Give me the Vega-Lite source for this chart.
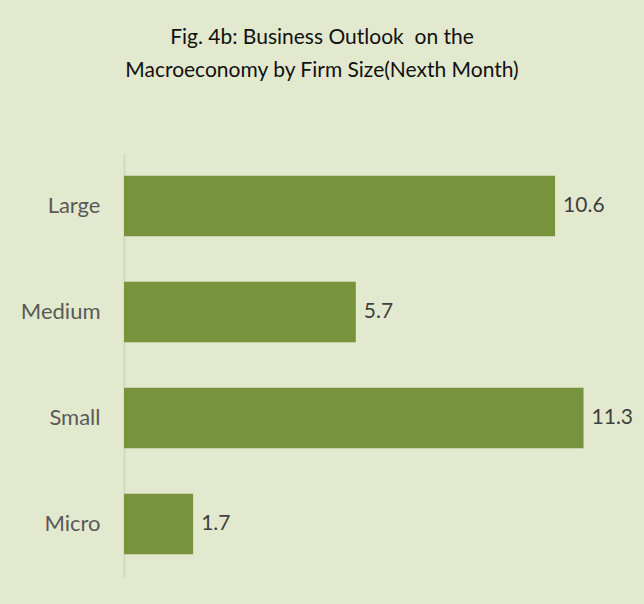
{
  "$schema": "https://vega.github.io/schema/vega-lite/v6.json",
  "width": 488,
  "height": 424,
  "autosize": {"type": "none"},
  "padding": {"left": 124, "top": 153, "right": 32, "bottom": 27},
  "background": "#E2E9CF",
  "title": {
    "text": ["Fig. 4b: Business Outlook \u00a0on the", "Macroeconomy by Firm Size(Nexth Month)"],
    "font": "Lato",
    "fontSize": 21,
    "fontWeight": "normal",
    "color": "#111111",
    "lineHeight": 33,
    "anchor": "middle",
    "dx": -46,
    "offset": 72
  },
  "data": {
    "values": [
      {"size": "Large", "value": 10.6},
      {"size": "Medium", "value": 5.7},
      {"size": "Small", "value": 11.3},
      {"size": "Micro", "value": 1.7}
    ]
  },
  "encoding": {
    "y": {
      "field": "size",
      "type": "nominal",
      "sort": ["Large", "Medium", "Small", "Micro"],
      "scale": {"paddingInner": 0.43, "paddingOuter": 0.215},
      "axis": {
        "title": null,
        "ticks": false,
        "labelFont": "Lato",
        "labelFontSize": 22,
        "labelColor": "#595959",
        "labelPadding": 24,
        "domainColor": "#D4D8C8",
        "domainWidth": 2
      }
    },
    "x": {
      "field": "value",
      "type": "quantitative",
      "scale": {"domain": [0, 12]},
      "axis": null
    }
  },
  "layer": [
    {"mark": {"type": "bar", "color": "#77933C"}},
    {
      "mark": {"type": "text", "align": "left", "dx": 8, "font": "Lato", "fontSize": 21, "color": "#404040"},
      "encoding": {"text": {"field": "value", "type": "quantitative", "format": ".1f"}}
    }
  ],
  "config": {"view": {"stroke": null}}
}
